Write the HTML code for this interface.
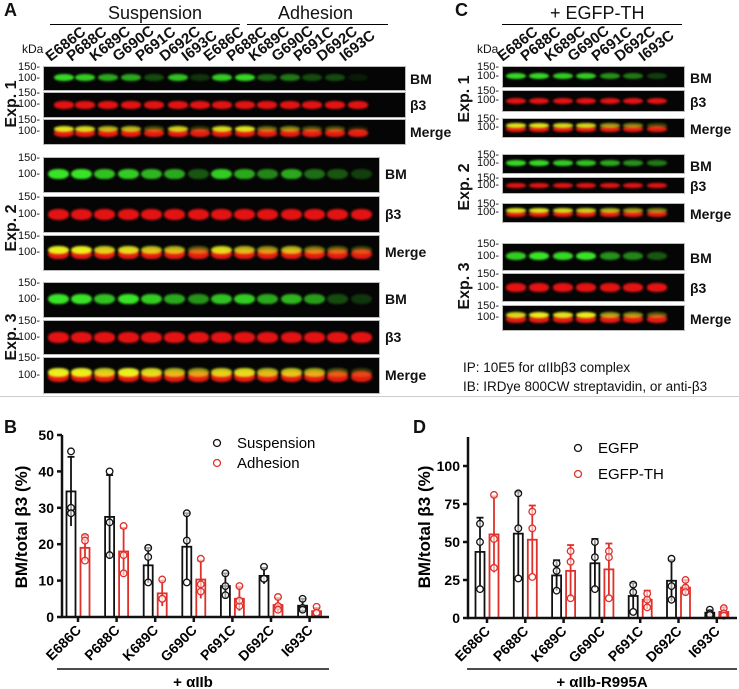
<!DOCTYPE html>
<html><head><meta charset="utf-8">
<style>
body{margin:0;width:739px;height:689px;background:#fff;position:relative;overflow:hidden;font-family:"Liberation Sans",Arial,sans-serif;color:#111}
.abs{position:absolute}
.pl{position:absolute;font-weight:bold;font-size:18px}
.strip{position:absolute;background:#050505;overflow:hidden;border:1px solid #bbb;box-sizing:border-box}
.band{position:absolute;border-radius:45%;filter:blur(1px)}
.kd{position:absolute;font-size:11px;text-align:right;width:32px}
.rl{position:absolute;font-weight:bold;font-size:14px}
.lane{position:absolute;font-weight:bold;font-size:15px;line-height:16px;transform-origin:left bottom;transform:rotate(-38deg);white-space:nowrap}
.hdr{position:absolute;font-size:18px}
.hl{position:absolute;height:1px;background:#000}
.exp{position:absolute;font-weight:bold;font-size:16px;transform:rotate(-90deg);transform-origin:center;white-space:nowrap}
</style></head><body>
<div class="pl" style="left:4px;top:0">A</div>
<div class="pl" style="left:455px;top:0">C</div>
<div class="pl" style="left:4px;top:417px">B</div>
<div class="pl" style="left:413px;top:417px">D</div>

<div class="hdr" style="left:108px;top:3px">Suspension</div>
<div class="hl" style="left:50px;top:24px;width:190px"></div>
<div class="hdr" style="left:278px;top:3px">Adhesion</div>
<div class="hl" style="left:247px;top:24px;width:141px"></div>
<div class="hdr" style="left:550px;top:3px">+ EGFP-TH</div>
<div class="hl" style="left:502px;top:24px;width:180px"></div>
<div class="abs" style="left:22px;top:42px;font-size:12px">kDa</div>
<div class="abs" style="left:477px;top:42px;font-size:12px">kDa</div>

<div class="abs" style="left:463px;top:360px;font-size:13.5px">IP: 10E5 for αIIbβ3 complex</div>
<div class="abs" style="left:463px;top:379px;font-size:13.5px">IB: IRDye 800CW streptavidin, or anti-β3</div>
<div class="abs" style="left:0;top:396px;width:739px;height:1px;background:#ccc"></div>

<div id="blots"></div>
<svg id="chartB" class="abs" style="left:0;top:0" width="739" height="689"></svg>

<script>
const root=document.getElementById('blots');
function el(tag,cls,style,txt,parent){const e=document.createElement(tag);if(cls)e.className=cls;e.setAttribute('style',style);if(txt)e.textContent=txt;(parent||root).appendChild(e);return e;}
const mutants=['E686C','P688C','K689C','G690C','P691C','D692C','I693C'];
const laneA=[63,84,107,130,153,177,199,221,244,266,289,311,334,357];
mutants.concat(mutants).forEach((m,i)=>{
  const e=el('div','lane','left:'+(laneA[i]-10)+'px;top:49px',m);
  
  
});
const laneC=[515,538,562,585,609,632,656];
mutants.forEach((m,i)=>{
  const e=el('div','lane','left:'+(laneC[i]-10)+'px;top:49px',m);
  
  
});
const bmA1=[.9,.85,.7,.7,.3,.8,.2,.85,.9,.4,.5,.3,.3,.1];
const bmA2=[.95,.95,.8,.85,.75,.7,.35,.85,.7,.55,.7,.45,.35,.25];
const bmA3=[.95,.95,.8,.95,.85,.7,.6,.8,.85,.7,.75,.65,.3,.2];
const bmC1=[.9,.9,.85,.85,.6,.5,.25];
const bmC2=[.9,.9,.85,.8,.7,.6,.5];
const bmC3=[.85,.95,.9,.95,.6,.55,.35];
function strip(x,y,w,h,lanes,bm,type,lw,name){
  const s=el('div','strip','left:'+x+'px;top:'+y+'px;width:'+w+'px;height:'+h+'px');
  
  
  lanes.forEach((c,i)=>{
    const g=bm[i];
    const bh=Math.max(5,h*0.3);
    const by=h*0.5-bh/2-2;
    if(type==='bm'){
      el('div','band','left:'+(c-x-lw/2)+'px;top:'+by+'px;width:'+lw+'px;height:'+bh+'px;background:rgba(60,240,40,'+g+')',null,s);
    }else if(type==='b3'){
      el('div','band','left:'+(c-x-lw/2)+'px;top:'+(by+1)+'px;width:'+lw+'px;height:'+bh+'px;background:rgba(240,20,20,.95)',null,s);
    }else{
      el('div','band','left:'+(c-x-lw/2)+'px;top:'+(by+2)+'px;width:'+lw+'px;height:'+bh+'px;background:rgba(240,30,20,.95)',null,s);
      el('div','band','left:'+(c-x-lw/2)+'px;top:'+(by-1)+'px;width:'+lw+'px;height:'+(bh*0.8)+'px;background:rgba(240,250,30,'+g+')',null,s);
    }
  });
  el('div','kd','left:'+(x-35)+'px;top:'+(y-5)+'px','150-');
  el('div','kd','left:'+(x-35)+'px;top:'+(y+h*0.5-7)+'px','100-');
}
const laneA2=[57,80,103,127,150,173,197,220,243,266,290,313,336,360];
strip(43,66,363,25,laneA,bmA1,'bm',20,'blot-a-exp1-bm');
strip(43,92,363,26,laneA,bmA1,'b3',20,'blot-a-exp1-b3');
strip(43,119,363,26,laneA,bmA1,'mg',20,'blot-a-exp1-merge');
strip(43,157,337,36,laneA2,bmA2,'bm',21,'blot-a-exp2-bm');
strip(43,196,337,37,laneA2,bmA2,'b3',21,'blot-a-exp2-b3');
strip(43,235,337,36,laneA2,bmA2,'mg',21,'blot-a-exp2-merge');
strip(43,282,337,36,laneA2,bmA3,'bm',21,'blot-a-exp3-bm');
strip(43,320,337,35,laneA2,bmA3,'b3',21,'blot-a-exp3-b3');
strip(43,357,337,37,laneA2,bmA3,'mg',21,'blot-a-exp3-merge');
strip(502,66,183,22,laneC,bmC1,'bm',20,'blot-c-exp1-bm');
strip(502,90,183,22,laneC,bmC1,'b3',20,'blot-c-exp1-b3');
strip(502,118,183,20,laneC,bmC1,'mg',20,'blot-c-exp1-merge');
strip(502,154,183,20,laneC,bmC2,'bm',20,'blot-c-exp2-bm');
strip(502,177,183,17,laneC,bmC2,'b3',20,'blot-c-exp2-b3');
strip(502,203,183,20,laneC,bmC2,'mg',20,'blot-c-exp2-merge');
strip(502,243,183,28,laneC,bmC3,'bm',20,'blot-c-exp3-bm');
strip(502,273,183,29,laneC,bmC3,'b3',20,'blot-c-exp3-b3');
strip(502,305,183,26,laneC,bmC3,'mg',20,'blot-c-exp3-merge');
[['BM',410,71],['β3',410,97],['Merge',410,124],['BM',385,166],['β3',385,206],['Merge',385,244],['BM',385,291],['β3',385,329],['Merge',385,367],
 ['BM',690,70],['β3',690,94],['Merge',690,121],['BM',690,158],['β3',690,178],['Merge',690,206],['BM',690,250],['β3',690,280],['Merge',690,311]].forEach(r=>{
  const e=el('div','rl','left:'+r[1]+'px;top:'+r[2]+'px',r[0]);
  
  
});
[['Exp. 1',12,105],['Exp. 2',12,229],['Exp. 3',12,338],['Exp. 1',465,100],['Exp. 2',465,188],['Exp. 3',465,287]].forEach(r=>{
  const e=el('div','exp','left:'+(r[1]-30)+'px;top:'+(r[2]-10)+'px;width:60px;text-align:center',r[0]);
  
  
});
</script>

<script>
const categories=['E686C','P688C','K689C','G690C','P691C','D692C','I693C'];
const suspMean=[34.5,27.5,14.2,19.3,8.5,11.3,3.1];
const suspSD=[9.5,11.5,4.8,9.2,3.5,2.2,1.9];
const suspPts=[[45.5,30,28.5],[40,26,17],[19,16.5,9.5],[28.5,21,9.5],[12,6,8.5],[13.8,10.5,10.5],[5,2.5,2]];
const adhMean=[19,18,6.5,10.3,5,3.3,1.6];
const adhSD=[3.5,6.5,3.5,5.2,3.3,1.9,0.9];
const adhPts=[[22,21,15.5],[25,17,12],[10.3,5,5],[16,9,7],[8.5,3,4.5],[5.5,3,2],[2.8,1,1.2]];
const egfpMean=[43.5,55.5,28,36,14.5,24.5,3.5];
const egfpSD=[22.5,27.5,10,16,8.5,13.5,1.8];
const egfpPts=[[62,50,19],[82,59,26],[36,31,18],[50,40,19],[22,17,4],[39,21,12],[5.5,3,2]];
const thMean=[55,51.5,31,32,12,20,4];
const thSD=[25,22.5,17,17,6,5,3];
const thPts=[[81,52,33],[70,59,27],[44,37,13],[44,40,13],[16,12,7],[25,20,17],[6.5,3,1.5]];
const ticksB=[0,10,20,30,40,50];
const ticksD=[0,25,50,75,100];

const svg=document.getElementById('chartB');
const NS='http://www.w3.org/2000/svg';
function mk(tag,attrs,txt){const e=document.createElementNS(NS,tag);for(const k in attrs)e.setAttribute(k,attrs[k]);if(txt!==undefined)e.textContent=txt;svg.appendChild(e);return e;}

function chart(cfg){
  const y=v=>cfg.y0-(v/cfg.vmax)*(cfg.y0-cfg.yTopVal);
  const xg=i=>cfg.x0+cfg.first+i*cfg.step;
  [[cfg.s1m,cfg.s1sd,cfg.s1p,'#111',-7],[cfg.s2m,cfg.s2sd,cfg.s2p,'#e0302a',7]].forEach((s,si)=>{
    categories.forEach((c,i)=>{
      const cx=xg(i)+s[4];
      const top=y(s[0][i]);
      const b=mk('rect',{x:cx-4.5,y:top,width:9,height:cfg.y0-top,fill:'none',stroke:s[3],'stroke-width':1.8});
      
      
      const et=y(s[0][i]+s[1][i]), eb=y(Math.max(0,s[0][i]-s[1][i]));
      const l=mk('line',{x1:cx,x2:cx,y1:et,y2:eb,stroke:s[3],'stroke-width':1.8});
      
      
      mk('line',{x1:cx-3.5,x2:cx+3.5,y1:et,y2:et,stroke:s[3],'stroke-width':1.8});
      s[2][i].forEach(p=>{
        const pt=mk('circle',{cx:cx,cy:y(p),r:3.3,fill:'#fff','fill-opacity':0.6,stroke:s[3],'stroke-width':1.3});
        
        
      });
    });
  });
  const ya=mk('line',{x1:cfg.x0,x2:cfg.x0,y1:cfg.axTop,y2:cfg.y0+1,stroke:'#111','stroke-width':2.5});
  
  
  const xa=mk('line',{x1:cfg.x0-1,x2:cfg.x1,y1:cfg.y0,y2:cfg.y0,stroke:'#111','stroke-width':2.5});
  
  
  cfg.ticks.forEach(t=>{
    mk('line',{x1:cfg.x0-5,x2:cfg.x0,y1:y(t),y2:y(t),stroke:'#111','stroke-width':2.5});
    const tl=mk('text',{x:cfg.x0-8,y:y(t)+5,'text-anchor':'end','font-size':14,'font-weight':'bold','font-family':'Liberation Sans, Arial, sans-serif'},t);
    
    
  });
  categories.forEach((c,i)=>{
    mk('line',{x1:xg(i),x2:xg(i),y1:cfg.y0,y2:cfg.y0+5,stroke:'#111','stroke-width':2.5});
    const tl=mk('text',{x:xg(i)+4,y:cfg.y0+14,'text-anchor':'end','font-size':14,'font-weight':'bold','font-family':'Liberation Sans, Arial, sans-serif',transform:'rotate(-45 '+(xg(i)+4)+' '+(cfg.y0+14)+')'},c);
    
    
  });
  const yt=mk('text',{x:0,y:0,'text-anchor':'middle','font-size':17,'font-weight':'bold','font-family':'Liberation Sans, Arial, sans-serif',transform:'translate('+cfg.ytx+' '+cfg.yty+') rotate(-90)'},'BM/total β3 (%)');
  
  
  mk('line',{x1:cfg.gx0,x2:cfg.x1,y1:669,y2:669,stroke:'#111','stroke-width':1.5});
  const gt=mk('text',{x:(cfg.gx0+cfg.x1)/2,y:687,'text-anchor':'middle','font-size':15,'font-weight':'bold','font-family':'Liberation Sans, Arial, sans-serif'},cfg.group);
  
  
  [[cfg.n1,'#111',0],[cfg.n2,'#e0302a',cfg.legDy]].forEach(L=>{
    mk('circle',{cx:cfg.lx,cy:cfg.ly+L[2],r:3.5,fill:'none',stroke:L[1],'stroke-width':1.3});
    const lt=mk('text',{x:cfg.lx+20,y:cfg.ly+L[2]+5,'font-size':15,'font-family':'Liberation Sans, Arial, sans-serif'},L[0]);
    
    
  });
}
chart({x0:62,x1:329,y0:617,yTopVal:435,vmax:50,axTop:435,first:16,step:38.6,ticks:ticksB,
  s1m:suspMean,s1sd:suspSD,s1p:suspPts,s2m:adhMean,s2sd:adhSD,s2p:adhPts,n1:'Suspension',n2:'Adhesion',
  ytx:27,yty:527,gx0:57,group:'+ αIIb',lx:217,ly:443,legDy:20});
chart({x0:468,x1:737,y0:618,yTopVal:466,vmax:100,axTop:437,first:19,step:38.3,ticks:ticksD,
  s1m:egfpMean,s1sd:egfpSD,s1p:egfpPts,s2m:thMean,s2sd:thSD,s2p:thPts,n1:'EGFP',n2:'EGFP-TH',
  ytx:430,yty:527,gx0:467,group:'+ αIIb-R995A',lx:578,ly:448,legDy:26});
</script>
</body></html>
